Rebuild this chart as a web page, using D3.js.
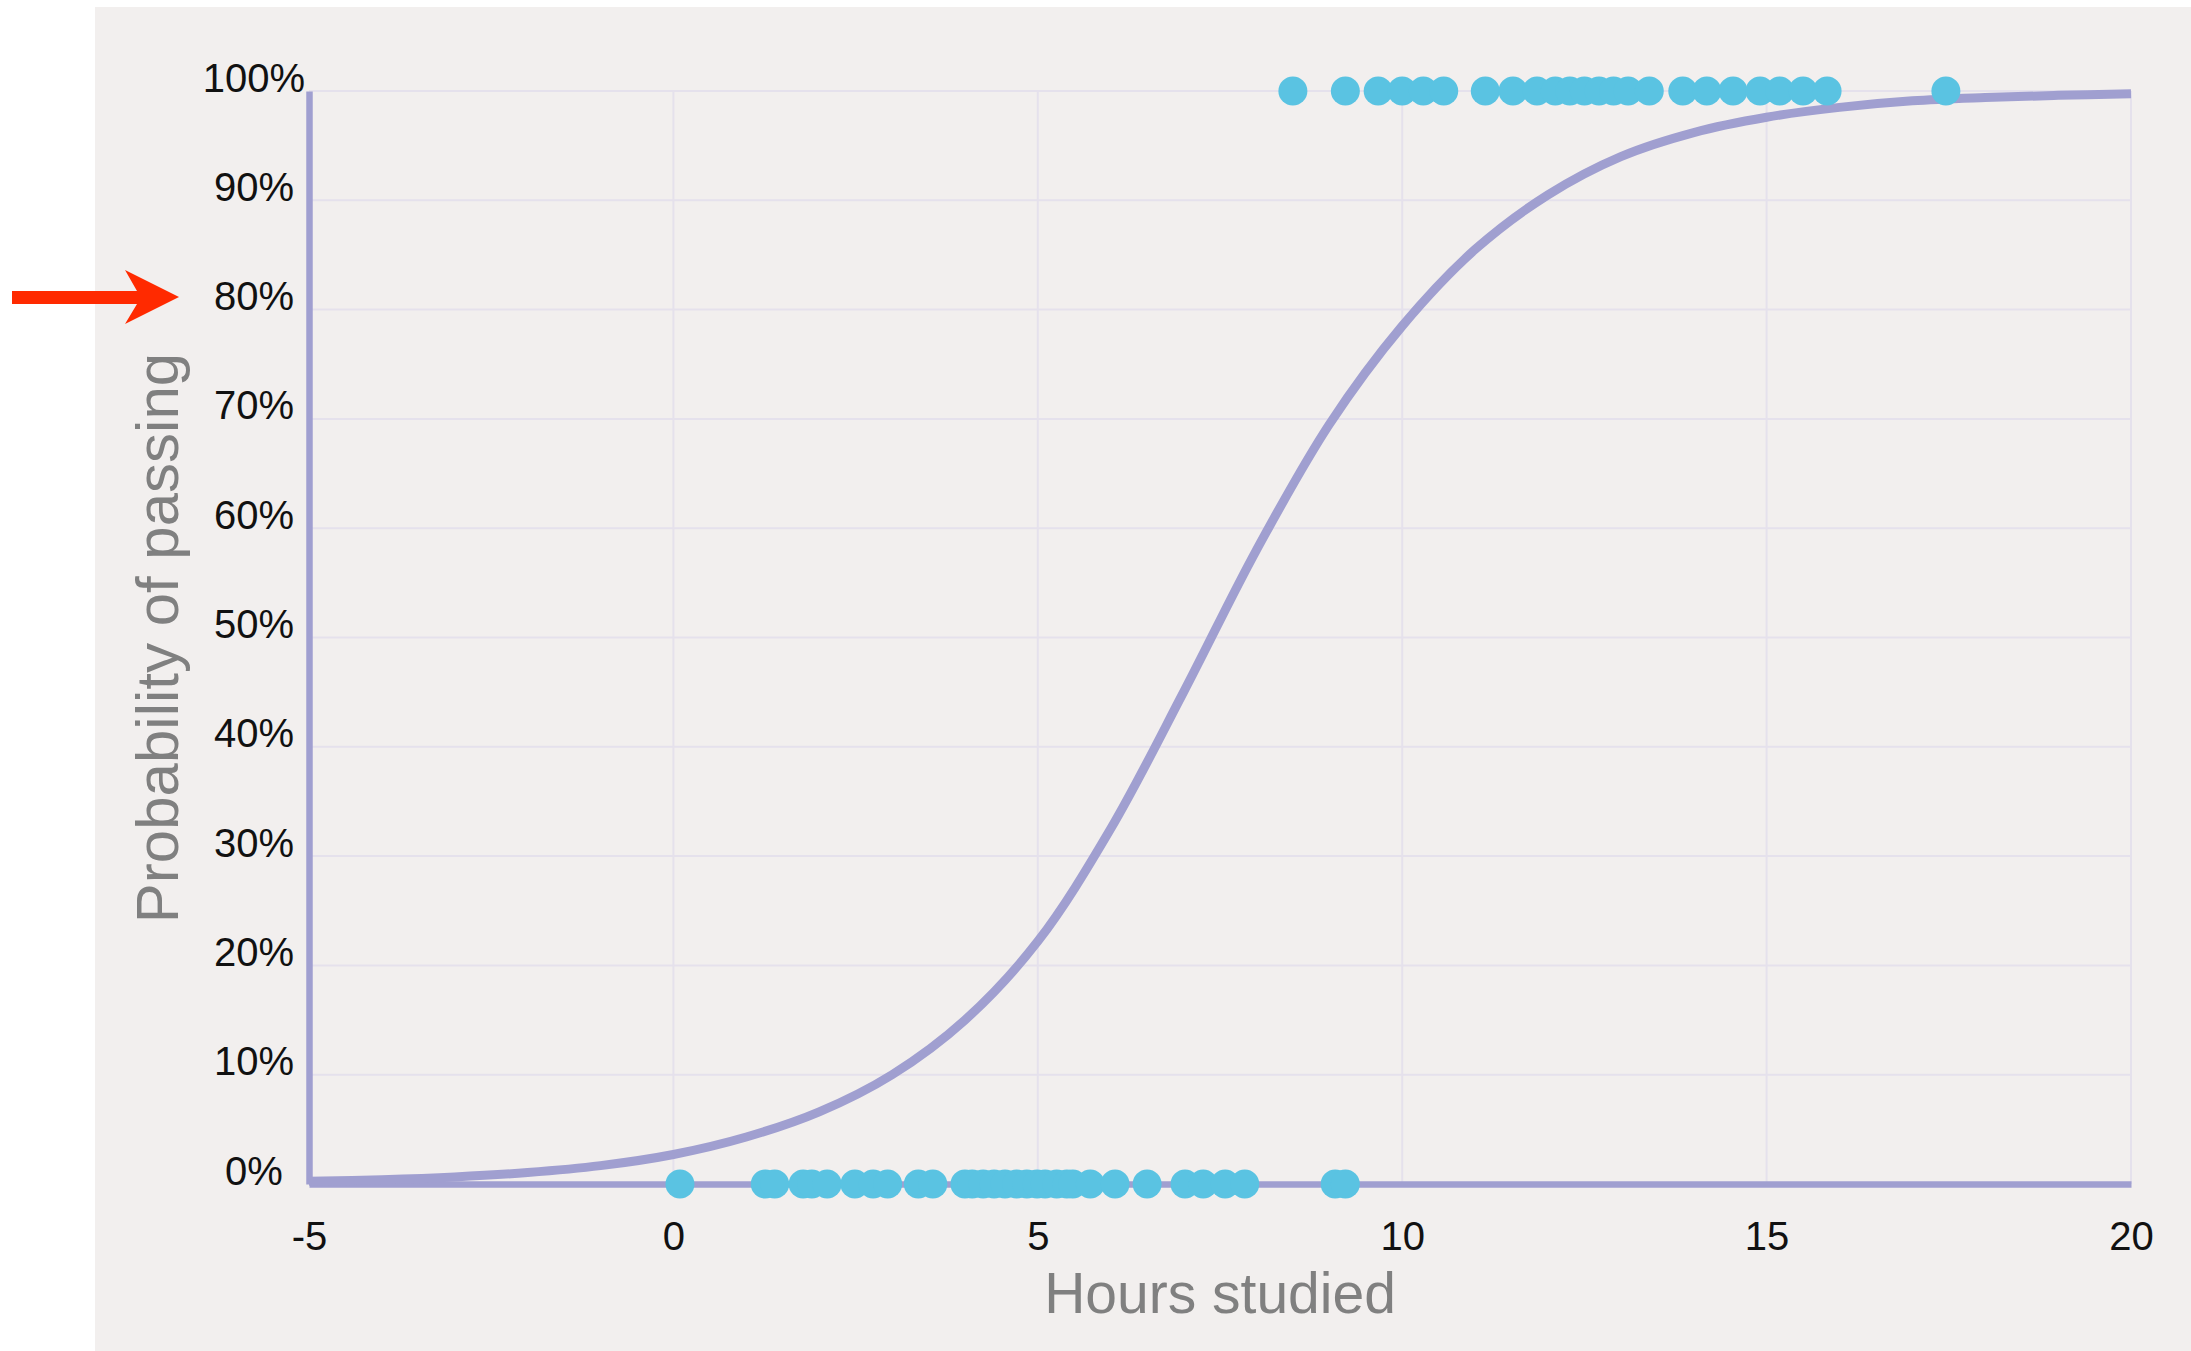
<!DOCTYPE html>
<html>
<head>
<meta charset="utf-8">
<script src="https://cdn.jsdelivr.net/npm/d3@7"></script>
<style>
  body { margin: 0; background: #ffffff; }
  .tick text { font-family: "Liberation Sans", Arial, sans-serif; fill: #111; }
  .title { font-family: "Liberation Sans", Arial, sans-serif; fill: #808080; }
</style>
</head>
<body>
<div id="chart"></div>
<script>
// students who failed (0%) and passed (100%), hours studied
const failedHours = [0.09, 1.26, 1.39, 1.78, 1.9, 2.11, 2.49, 2.74, 2.94, 3.36, 3.56,
  4.0, 4.1, 4.25, 4.4, 4.55, 4.71, 4.85, 4.99, 5.1, 5.26, 5.4, 5.48, 5.72,
  6.06, 6.5, 7.02, 7.27, 7.57, 7.84, 9.08, 9.22];
const passedHours = [8.5, 9.22, 9.67, 10.0, 10.29, 10.57, 11.14, 11.52, 11.85, 12.1,
  12.3, 12.5, 12.7, 12.9, 13.1, 13.39, 13.85, 14.18, 14.54, 14.91, 15.18, 15.5,
  15.83, 17.46];

// fitted curve
const curveHours = [-5, -4, -3, -2, -1, 0, 1, 2, 3, 4, 5, 6, 7, 8, 9, 10,
  11, 12, 13, 14, 15, 16, 17, 18, 19, 20];
const curveProb = [0.0025, 0.004, 0.0065, 0.0105, 0.0168, 0.027, 0.043, 0.066, 0.1, 0.15,
  0.222, 0.325, 0.45, 0.58, 0.695, 0.785, 0.855, 0.905, 0.94, 0.962, 0.976, 0.985,
  0.991, 0.994, 0.996, 0.9975];

const xTicks = [-5, 0, 5, 10, 15, 20];
const yTicks = [0, 0.1, 0.2, 0.3, 0.4, 0.5, 0.6, 0.7, 0.8, 0.9, 1];

const W = 2191, H = 1351;
const margin = { top: 91, right: 60, bottom: 167, left: 309 };
const width = W - margin.left - margin.right;
const height = H - margin.top - margin.bottom;

const purple = "#a09fd0";
const blue = "#5ac3e2";
const grid = "#e5e1ec";

const svg = d3.select("#chart").append("svg")
  .attr("width", W)
  .attr("height", H);

// panel background
svg.append("rect")
  .attr("x", 95).attr("y", 7)
  .attr("width", W - 95).attr("height", H - 7)
  .attr("fill", "#f2efee");

const g = svg.append("g")
  .attr("transform", "translate(" + margin.left + "," + margin.top + ")");

const xScale = d3.scaleLinear().domain([-5, 20]).range([0, width]);
const yScale = d3.scaleLinear().domain([0, 1]).range([height, 0]);

// grid
g.append("g").selectAll("line")
  .data(yTicks)
  .enter().append("line")
  .attr("x1", 0).attr("x2", width)
  .attr("y1", d => yScale(d)).attr("y2", d => yScale(d))
  .attr("stroke", grid).attr("stroke-width", 2);

g.append("g").selectAll("line")
  .data(xTicks.slice(1))
  .enter().append("line")
  .attr("x1", d => xScale(d)).attr("x2", d => xScale(d))
  .attr("y1", 0).attr("y2", height)
  .attr("stroke", grid).attr("stroke-width", 2);

// x-axis
const xAxis = g.append("g")
  .attr("transform", "translate(0," + height + ")")
  .call(d3.axisBottom(xScale).tickValues(xTicks).tickSize(0).tickFormat(d => String(d)));
xAxis.select(".domain").attr("stroke", purple).attr("stroke-width", 6.5);
xAxis.selectAll("text")
  .attr("y", 66).attr("dy", 0)
  .style("font-size", "40px");

// y-axis
const yAxis = g.append("g")
  .call(d3.axisLeft(yScale).tickValues(yTicks).tickSize(0).tickFormat(d3.format(".0%")));
yAxis.select(".domain").attr("stroke", purple).attr("stroke-width", 6.5);
yAxis.selectAll("text")
  .attr("x", -55).attr("dy", 0)
  .attr("text-anchor", "middle")
  .style("font-size", "40px");

// axis titles
svg.append("text")
  .attr("class", "title")
  .attr("x", 1220).attr("y", 1313)
  .attr("text-anchor", "middle")
  .style("font-size", "57px")
  .text("Hours studied");

svg.append("text")
  .attr("class", "title")
  .attr("transform", "translate(178," + 638 + ") rotate(-90)")
  .attr("text-anchor", "middle")
  .style("font-size", "60px")
  .text("Probability of passing");

// logistic curve
const line = d3.line()
  .x((d, i) => xScale(d))
  .y((d, i) => yScale(curveProb[i]))
  .curve(d3.curveCatmullRom);

g.append("path")
  .datum(curveHours)
  .attr("d", line)
  .attr("fill", "none")
  .attr("stroke", purple)
  .attr("stroke-width", 9);

// plot the data
g.selectAll(".fail")
  .data(failedHours)
  .enter().append("circle")
  .attr("class", "fail")
  .attr("cx", d => xScale(d))
  .attr("cy", yScale(0))
  .attr("r", 14.5)
  .attr("fill", blue);

g.selectAll(".pass")
  .data(passedHours)
  .enter().append("circle")
  .attr("class", "pass")
  .attr("cx", d => xScale(d))
  .attr("cy", yScale(1))
  .attr("r", 14.5)
  .attr("fill", blue);

// red arrow pointing at 80%
svg.append("path")
  .attr("d", "M12,291 L137,291 L125,270 L179,297 L125,324 L137,304 L12,304 Z")
  .attr("fill", "#ff2a00");
</script>
</body>
</html>
